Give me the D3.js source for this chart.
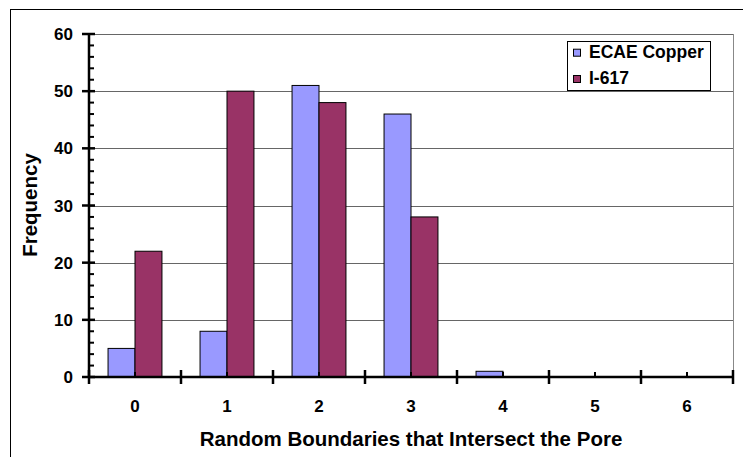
<!DOCTYPE html>
<html>
<head>
<meta charset="utf-8">
<script src="https://cdn.jsdelivr.net/npm/d3@7/dist/d3.min.js"></script>
<style>
  html, body { margin: 0; padding: 0; background: #fff; }
  svg { display: block; font-family: Arial, "Liberation Sans", Helvetica, sans-serif; }
</style>
</head>
<body>
<svg id="chart" width="743" height="457"></svg>
<script>
const categories = ["0", "1", "2", "3", "4", "5", "6"];
const seriesNames = ["ECAE Copper", "I-617"];
const ecaeCopper = [5, 8, 51, 46, 1, 0, 0];
const i617 = [22, 50, 48, 28, 0, 0, 0];
const yTicks = [0, 10, 20, 30, 40, 50, 60];
const colors = ["#9999FF", "#993366"];
const xTitle = "Random Boundaries that Intersect the Pore";
const yTitle = "Frequency";

(function () {
const svg = d3.select("#chart");
const pL = 89, pR = 733, pT = 34, pB = 377;

// outer chart border (only top & left visible within the picture)
svg.append("rect").attr("x", 10.5).attr("y", 9.5).attr("width", 900).attr("height", 700)
  .attr("fill", "none").attr("stroke", "#000").attr("stroke-width", 1);

const x = d3.scaleBand().domain(categories).range([pL, pR]).padding(0);
const xSub = d3.scaleBand().domain(seriesNames)
  .range([x.bandwidth() * 0.207, x.bandwidth() * 0.793]).padding(0);
const y = d3.scaleLinear().domain([0, 60]).range([pB, pT]);

// gridlines
svg.append("g").selectAll("line").data(yTicks.filter(d => d > 0)).join("line")
  .attr("x1", pL).attr("x2", pR)
  .attr("y1", d => Math.round(y(d)) + 0.5).attr("y2", d => Math.round(y(d)) + 0.5)
  .attr("stroke", "#666").attr("stroke-width", 1);
// plot right border
svg.append("line").attr("x1", pR + 0.5).attr("x2", pR + 0.5)
  .attr("y1", pT).attr("y2", pB).attr("stroke", "#888").attr("stroke-width", 1);

// bars
const data = categories.map((c, i) => ({ c, vals: [ecaeCopper[i], i617[i]] }));
const groups = svg.append("g").selectAll("g").data(data).join("g")
  .attr("transform", d => `translate(${x(d.c)},0)`);
groups.selectAll("rect").data(d => d.vals.map((v, k) => ({ v, s: seriesNames[k], k })).filter(e => e.v > 0))
  .join("rect")
  .attr("x", e => xSub(e.s))
  .attr("width", xSub.bandwidth())
  .attr("y", e => y(e.v))
  .attr("height", e => y(0) - y(e.v))
  .attr("fill", e => colors[e.k])
  .attr("stroke", "#000").attr("stroke-width", 1);

// y axis minor ticks (inside)
const minor = d3.range(0, 61, 2).filter(d => d % 10 !== 0);
svg.append("g").selectAll("line").data(minor).join("line")
  .attr("x1", pL).attr("x2", pL + 5)
  .attr("y1", d => y(d)).attr("y2", d => y(d))
  .attr("stroke", "#000").attr("stroke-width", 2);
// y axis major ticks (cross)
svg.append("g").selectAll("line").data(yTicks).join("line")
  .attr("x1", pL - 7).attr("x2", pL + 6)
  .attr("y1", d => y(d)).attr("y2", d => y(d))
  .attr("stroke", "#000").attr("stroke-width", 2.5);
// y axis line
svg.append("line").attr("x1", pL).attr("x2", pL).attr("y1", pT - 1).attr("y2", pB + 1)
  .attr("stroke", "#000").attr("stroke-width", 2.5);
// y tick labels
svg.append("g").selectAll("text").data(yTicks).join("text")
  .attr("x", 73).attr("y", d => y(d)).attr("dy", "0.36em")
  .attr("text-anchor", "end").attr("font-size", "17px").attr("font-weight", "bold")
  .text(d => d);

// x axis minor ticks at category centers (inside)
svg.append("g").selectAll("line").data(categories).join("line")
  .attr("x1", d => x(d) + x.bandwidth() / 2).attr("x2", d => x(d) + x.bandwidth() / 2)
  .attr("y1", pB - 5).attr("y2", pB)
  .attr("stroke", "#000").attr("stroke-width", 2);
// x axis major ticks at boundaries (cross)
const bounds = categories.map(c => x(c)).concat([pR]);
svg.append("g").selectAll("line").data(bounds).join("line")
  .attr("x1", d => d).attr("x2", d => d)
  .attr("y1", pB - 7).attr("y2", pB + 7)
  .attr("stroke", "#000").attr("stroke-width", 2.5);
// x axis line
svg.append("line").attr("x1", pL - 1).attr("x2", pR + 1).attr("y1", pB).attr("y2", pB)
  .attr("stroke", "#000").attr("stroke-width", 2.5);
// x tick labels
svg.append("g").selectAll("text").data(categories).join("text")
  .attr("x", d => x(d) + x.bandwidth() / 2).attr("y", 411.5)
  .attr("text-anchor", "middle").attr("font-size", "17px").attr("font-weight", "bold")
  .text(d => d);

// axis titles
svg.append("text").attr("x", 411).attr("y", 445.5)
  .attr("text-anchor", "middle").attr("font-size", "20.5px").attr("font-weight", "bold")
  .text(xTitle);
svg.append("text").attr("transform", "translate(37,205) rotate(-90)")
  .attr("text-anchor", "middle").attr("font-size", "20.5px").attr("font-weight", "bold")
  .text(yTitle);

// legend
const lg = svg.append("g");
lg.append("rect").attr("x", 567.5).attr("y", 41.5).attr("width", 143).attr("height", 49)
  .attr("fill", "#fff").attr("stroke", "#000").attr("stroke-width", 1);
const ly = [57.7, 84];
seriesNames.forEach((s, k) => {
  lg.append("rect").attr("x", 573.5).attr("y", ly[k] - 8.5).attr("width", 7).attr("height", 7)
    .attr("fill", colors[k]).attr("stroke", "#000").attr("stroke-width", 1);
  lg.append("text").attr("x", 589).attr("y", ly[k])
    .attr("font-size", "17.5px").attr("font-weight", "bold").text(s);
});
})();
</script>
</body>
</html>
